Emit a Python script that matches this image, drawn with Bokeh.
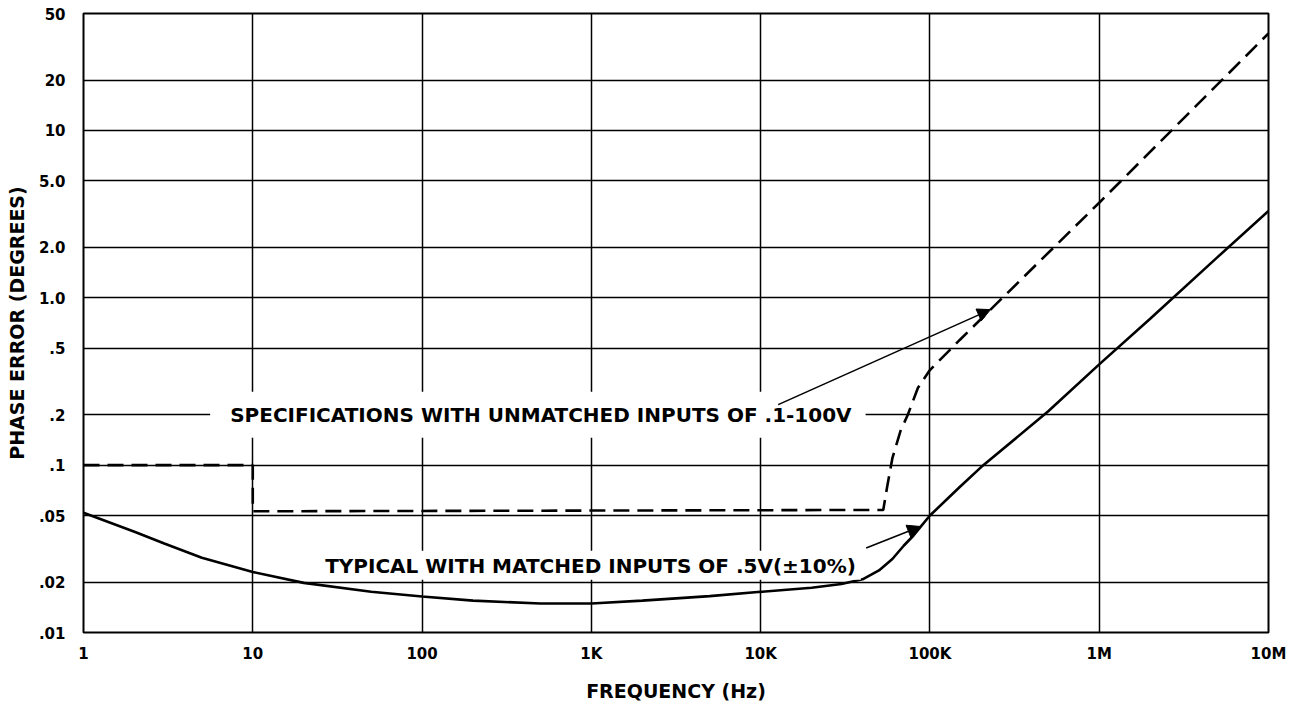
from bokeh.plotting import figure
from bokeh.models import (Range1d, FixedTicker, CustomJSTickFormatter, Label,
                          Arrow, NormalHead)
from bokeh.embed import file_html
from bokeh.resources import INLINE

# ---------------- data ----------------
x_ticks = [1, 10, 100, 1e3, 1e4, 1e5, 1e6, 1e7]
x_tick_labels = ["1", "10", "100", "1K", "10K", "100K", "1M", "10M"]
y_ticks = [0.01, 0.02, 0.05, 0.1, 0.2, 0.5, 1, 2, 5, 10, 20, 50]
y_tick_labels = [".01", ".02", ".05", ".1", ".2", ".5", "1.0", "2.0", "5.0", "10", "20", "50"]

# typical, matched inputs (solid)
typ_freq = [1, 2, 3, 5, 10, 20, 50, 100, 200, 500, 1e3, 2e3, 5e3, 1e4, 2e4, 3e4,
            4e4, 5e4, 6e4, 7e4, 8e4, 9e4, 1e5, 1.5e5, 2e5, 5e5, 1e6, 2e6, 5e6, 1e7]
typ_phase = [.052, .040, .034, .028, .023, .0198, .0175, .0164, .0155, .0149, .0149,
             .0155, .0165, .0175, .0185, .0195, .0208, .0235, .0275, .033, .038, .044,
             .050, .074, .097, .21, .40, .75, 1.75, 3.3]

# specifications, unmatched inputs (dashed)
spec_freq = [1, 10, 10, 5.3e4, 5.6e4, 6e4, 6.7e4, 7.4e4, 8.5e4, 1e5, 1.5e5, 2.28e5, 1e6, 1e7]
spec_phase = [.1, .1, .053, .054, .075, .11, .16, .2, .29, .37, .56, .85, 3.7, 38]

# annotations (data coordinates)
spec_note = "SPECIFICATIONS WITH UNMATCHED INPUTS OF .1-100V"
spec_note_xy = (5.6, 0.2)
spec_arrow = (1.27e4, 0.23, 2.28e5, 0.85)
typ_note = "TYPICAL WITH MATCHED INPUTS OF .5V(\u00b110%)"
typ_note_xy = (25.0, 0.0252)
typ_arrow = (4.2e4, 0.032, 8.8e4, 0.043)

FONT = "DejaVu Sans"

p = figure(width=1290, height=704, x_axis_type="log", y_axis_type="log",
           x_range=Range1d(1, 1e7), y_range=Range1d(0.01, 50),
           output_backend="svg", toolbar_location=None,
           min_border_left=83, min_border_right=22, min_border_top=13, min_border_bottom=72)

p.outline_line_color = "black"
p.outline_line_width = 2
p.background_fill_color = "white"
p.border_fill_color = "white"

def fmt(vals, labs):
    return CustomJSTickFormatter(args=dict(vals=vals, labs=labs), code="""
        let best = 0, d = Infinity;
        for (let i = 0; i < vals.length; i++) {
            const e = Math.abs(Math.log(tick) - Math.log(vals[i]));
            if (e < d) { d = e; best = i; }
        }
        return labs[best];
    """)

p.xaxis.ticker = FixedTicker(ticks=x_ticks)
p.yaxis.ticker = FixedTicker(ticks=y_ticks)
p.xgrid.ticker = FixedTicker(ticks=x_ticks)
p.ygrid.ticker = FixedTicker(ticks=y_ticks)
p.xaxis.formatter = fmt(x_ticks, x_tick_labels)
p.yaxis.formatter = fmt(y_ticks, y_tick_labels)

for g in (p.xgrid, p.ygrid):
    g.grid_line_color = "black"
    g.grid_line_width = 1.5
    g.grid_line_alpha = 1.0
    g.minor_grid_line_color = None

for ax in (p.xaxis, p.yaxis):
    ax.axis_line_color = None
    ax.major_tick_line_color = None
    ax.minor_tick_line_color = None
    ax.major_label_text_font = FONT
    ax.major_label_text_font_style = "bold"
    ax.major_label_text_font_size = "15px"
    ax.major_label_text_color = "black"
    ax.axis_label_text_font = FONT
    ax.axis_label_text_font_style = "bold"
    ax.axis_label_text_font_size = "19px"
    ax.axis_label_text_color = "black"

p.xaxis.major_label_standoff = 6
p.yaxis.major_label_standoff = 12
p.xaxis.axis_label = "FREQUENCY (Hz)"
p.yaxis.axis_label = "PHASE ERROR (DEGREES)"
p.xaxis.axis_label_standoff = 14
p.yaxis.axis_label_standoff = 8

p.line(typ_freq, typ_phase, line_color="black", line_width=2.6)
p.line(spec_freq, spec_phase, line_color="black", line_width=2.6, line_dash="16 8")

lab1 = Label(x=spec_note_xy[0], y=spec_note_xy[1], text=spec_note,
             text_font=FONT, text_font_style="bold", text_font_size="20px",
             text_align="left", text_baseline="middle", text_color="black",
             background_fill_color="white",
             padding=dict(left=20, right=14, top=11, bottom=11))
lab2 = Label(x=typ_note_xy[0], y=typ_note_xy[1], text=typ_note,
             text_font=FONT, text_font_style="bold", text_font_size="20px",
             text_align="left", text_baseline="middle", text_color="black",
             background_fill_color="white",
             padding=dict(left=5, right=5, top=3, bottom=2))
p.add_layout(lab1)
p.add_layout(lab2)

for (xs, ys, xe, ye) in (spec_arrow, typ_arrow):
    p.add_layout(Arrow(x_start=xs, y_start=ys, x_end=xe, y_end=ye,
                       line_color="black", line_width=1.6,
                       end=NormalHead(size=13, fill_color="black", line_color="black")))

open("out.html", "w").write(file_html(p, INLINE))
